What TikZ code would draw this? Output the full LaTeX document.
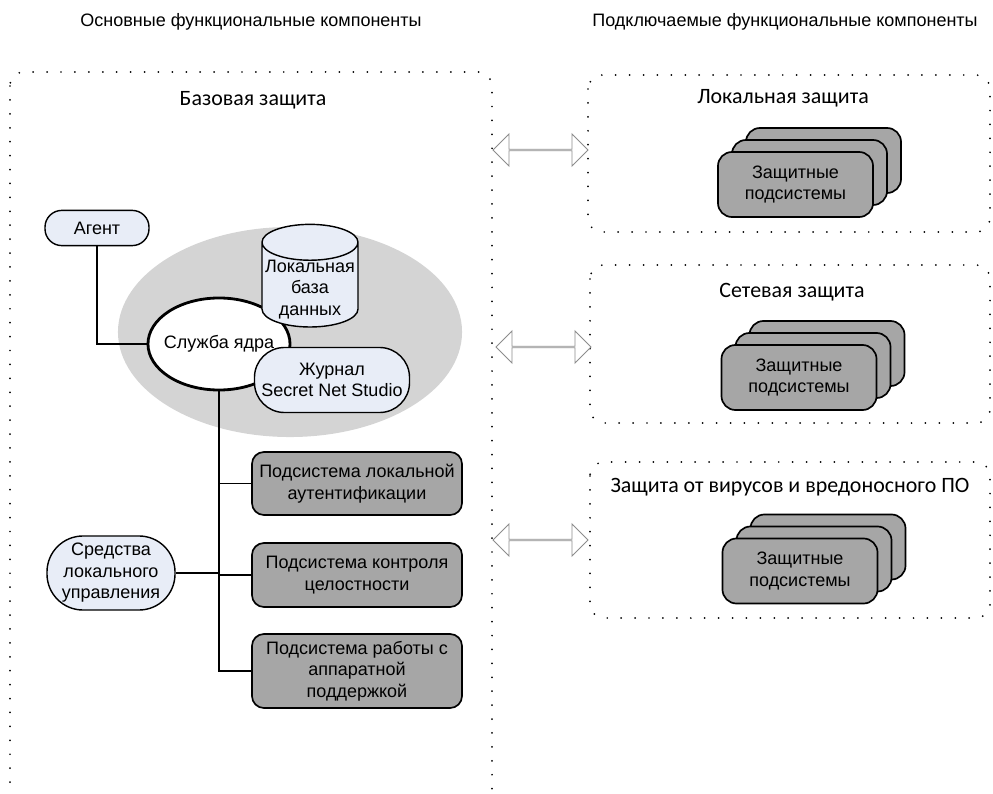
\documentclass[tikz,border=0pt]{standalone}
\usepackage{fontspec}
\setmainfont{Liberation Sans}
\newfontfamily\calfont{Carlito}
\usetikzlibrary{positioning,shapes.geometric,shapes.arrows}
\definecolor{colorPale}{HTML}{E8EDF7}
\definecolor{colorSub}{HTML}{A6A6A6}
\definecolor{colorShade}{HTML}{D4D4D4}
\definecolor{colorArr}{HTML}{8C8C8C}
\tikzset{
   every node/.style={font=\fontsize{12.8}{15.3}\selectfont,align=center,inner sep=0pt},
   dbox/.style={draw,line width=1.4pt,dash pattern=on 0pt off 9.9pt,line cap=round,rounded corners=0.35cm},
   ttl/.style={font=\calfont\fontsize{15.6}{18}\selectfont},
   pill/.style={rectangle,draw,line width=1pt,fill=colorPale},
   sub/.style={rectangle,draw,line width=1.2pt,fill=colorSub,rounded corners=0.3cm,minimum width=5.25cm},
   stk/.style={rectangle,draw,line width=1.2pt,fill=colorSub,rounded corners=0.35cm,minimum width=3.875cm,minimum height=1.625cm},
   arr/.style={double arrow,draw=colorArr,fill=white,line width=0.6pt,minimum height=2.375cm,minimum width=0.8cm,double arrow head extend=0.2cm},
   wire/.style={line width=0.9pt},
}

\begin{document}
\begin{tikzpicture}[x=0.025cm,y=-0.025cm]
      \useasboundingbox (0,0) rectangle (993,794);
      \draw[dbox] (10,72) rectangle (492,808);
      \draw[dbox] (588,75) rectangle (990,232);
      \draw[dbox] (590,265) rectangle (990,423);
      \draw[dbox] (590,462) rectangle (990,618);
      \node (hdmain) at (251,22) {Основные функциональные компоненты};
      \node (hdplug) at (785,22) {Подключаемые функциональные компоненты};
      \node[ttl] (tbase) at (253,100) {Базовая защита};
      \node[ttl] (tloc) at (783,98) {Локальная защита};
      \node[ttl] (tnet) at (792,292) {Сетевая защита};
      \node[ttl] (tav) at (790,487) {Защита от вирусов и вредоносного ПО};
      \node[ellipse,fill=colorShade,minimum width=8.6cm,minimum height=5.25cm] (shade) at (290,332) {};
      \node[pill,rounded corners=0.42cm,minimum width=2.6cm,minimum height=0.88cm] (agent) at (97,228) {Агент};
      \node[ellipse,draw,line width=2pt,fill=white,inner xsep=-0.15cm,minimum width=3.55cm,minimum height=2.3cm] (core) at (219,344) {Служба ядра};
      \node[cylinder,shape border rotate=90,draw,line width=1pt,fill=colorPale,inner ysep=-0.25cm,minimum width=2.4cm,minimum height=2.2cm,aspect=0.4] (db) at (310,285) {\\[0pt]Локальная\\база\\данных};
      \node[pill,rounded corners=0.75cm,minimum width=3.875cm,minimum height=1.625cm] (log) at (332,380) {Журнал\\Secret Net Studio};
      \node[sub,minimum height=1.575cm] (s1) at (357,483.5) {Подсистема локальной\\аутентификации};
      \node[sub,minimum height=1.6cm] (s2) at (357,575) {Подсистема контроля\\целостности};
      \node[sub,minimum height=1.85cm] (s3) at (357,671) {Подсистема работы с\\аппаратной\\поддержкой};
      \node[pill,rounded corners=0.9cm,minimum width=3.2cm,minimum height=1.85cm] (lman) at (111,573) {Средства\\локального\\управления};
      \node[arr] (ar1) at (540.5,150) {};
      \node[arr] (ar2) at (543.5,347) {};
      \node[arr] (ar3) at (540.5,540) {};
      \node[stk] (la3) at (823.5,160.5) {};
      \node[stk] (la2) at (809.5,172.5) {};
      \node[stk] (la1) at (795.5,184.5) {Защитные\\подсистемы};
      \node[stk] (ne3) at (827,353.5) {};
      \node[stk] (ne2) at (813,365.5) {};
      \node[stk] (ne1) at (799,377.5) {Защитные\\подсистемы};
      \node[stk] (av3) at (828,547) {};
      \node[stk] (av2) at (814,559) {};
      \node[stk] (av1) at (800,571) {Защитные\\подсистемы};
      \draw[wire] (agent) |- (core);
      \draw[wire] (core) -- (core |- s3) -- (s3);
      \draw[wire] (core |- s1) -- (s1);
      \draw[wire] (core |- s2) -- (s2);
      \draw[wire] (lman) -- (core |- lman);
    \end{tikzpicture}
\end{document}
